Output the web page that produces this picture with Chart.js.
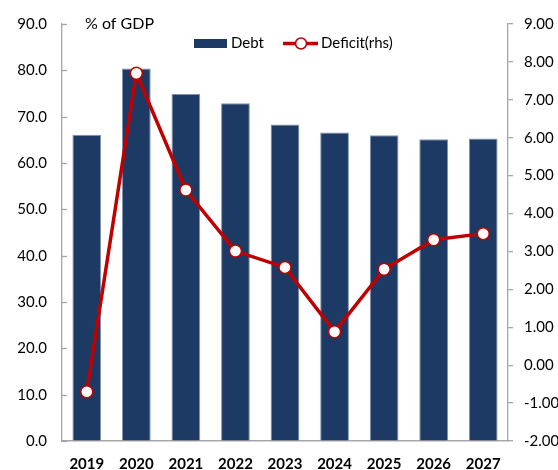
<!DOCTYPE html>
<html><head><meta charset="utf-8">
<script src="https://cdn.jsdelivr.net/npm/chart.js@4"></script>
<style>html,body{margin:0;padding:0;background:#fff;}</style>
</head><body>
<canvas id="c" width="558" height="470"></canvas>
<script>
const categories = ['2019','2020','2021','2022','2023','2024','2025','2026','2027'];
const debtValues = [66.1, 80.4, 74.9, 72.9, 68.3, 66.6, 66.0, 65.1, 65.3];
const deficitValues = [-0.70, 7.70, 4.62, 3.01, 2.58, 0.88, 2.53, 3.31, 3.47];
const seriesNames = ['Debt', 'Deficit(rhs)'];
const unitLabel = '% of GDP';

const NAVY = '#1c3a63';
const RED = '#c00000';
const AXIS = '#a6a6a6';
const FONT = 'Lato';

const overlay = {
  id: 'overlay',
  afterDraw(chart) {
    const ctx = chart.ctx, y = chart.scales.y, area = chart.chartArea;
    ctx.save();
    ctx.strokeStyle = AXIS; ctx.lineWidth = 1.3;
    y.ticks.forEach(t => {
      const py = Math.round(y.getPixelForValue(t.value)) + 0.5;
      ctx.beginPath(); ctx.moveTo(area.left, py); ctx.lineTo(area.left + 5, py); ctx.stroke();
    });
    ctx.fillStyle = '#000';
    ctx.font = '16px ' + FONT;
    ctx.textBaseline = 'middle';
    ctx.textAlign = 'left';
    ctx.fillText(unitLabel, 85, 24);
    const ly = 43.5;
    ctx.fillStyle = NAVY;
    ctx.fillRect(194, ly - 4.5, 33, 9);
    ctx.fillStyle = '#000';
    ctx.font = '15px ' + FONT;
    ctx.fillText(chart.data.datasets[1].label, 231, ly);
    ctx.strokeStyle = RED; ctx.lineWidth = 3.5;
    ctx.beginPath(); ctx.moveTo(283, ly); ctx.lineTo(318, ly); ctx.stroke();
    ctx.beginPath(); ctx.arc(301, ly, 5.5, 0, Math.PI * 2);
    ctx.fillStyle = '#fff'; ctx.fill();
    ctx.lineWidth = 1.5; ctx.stroke();
    ctx.fillStyle = '#000';
    ctx.fillText(chart.data.datasets[0].label, 321, ly);
    ctx.restore();
  }
};

new Chart(document.getElementById('c'), {
  data: {
    labels: categories,
    datasets: [
      {
        type: 'line', label: seriesNames[1], data: deficitValues, yAxisID: 'y1', order: 0,
        borderColor: RED, borderWidth: 3.5, tension: 0,
        pointRadius: 6, pointBackgroundColor: '#fff', pointBorderColor: RED, pointBorderWidth: 1.5
      },
      {
        type: 'bar', label: seriesNames[0], data: debtValues, yAxisID: 'y', order: 1,
        backgroundColor: NAVY, borderColor: '#7f93ae', borderWidth: 1,
        categoryPercentage: 1.0, barPercentage: 0.58
      }
    ]
  },
  options: {
    responsive: false,
    animation: false,
    layout: { padding: { top: 22, left: 0, right: 0, bottom: 0 } },
    plugins: { legend: { display: false }, tooltip: { enabled: false } },
    scales: {
      x: {
        grid: { display: true, drawOnChartArea: false, drawTicks: false, color: AXIS },
        border: { color: AXIS, width: 1.5 },
        ticks: { font: { family: FONT, size: 15, weight: 'bold' }, color: '#000', padding: 14, maxRotation: 0 },
        afterFit: s => { s.height = 29; }
      },
      y: {
        position: 'left', min: 0, max: 90,
        grid: { display: true, drawOnChartArea: false, drawTicks: false, color: AXIS },
        border: { color: AXIS, width: 1.3 },
        ticks: { stepSize: 10, callback: v => Number(v).toFixed(1), font: { family: FONT, size: 15 }, color: '#000', padding: 15 },
        afterFit: s => { s.width = 62; }
      },
      y1: {
        position: 'right', min: -2, max: 9,
        grid: { display: true, drawOnChartArea: false, drawTicks: true, tickLength: 5, color: AXIS, lineWidth: 1.3 },
        border: { color: AXIS, width: 1.3 },
        ticks: { stepSize: 1, callback: v => Number(v).toFixed(2), font: { family: FONT, size: 15 }, color: '#000', padding: 11 },
        afterFit: s => { s.width = 50; }
      }
    }
  },
  plugins: [overlay]
});
</script>
</body></html>
